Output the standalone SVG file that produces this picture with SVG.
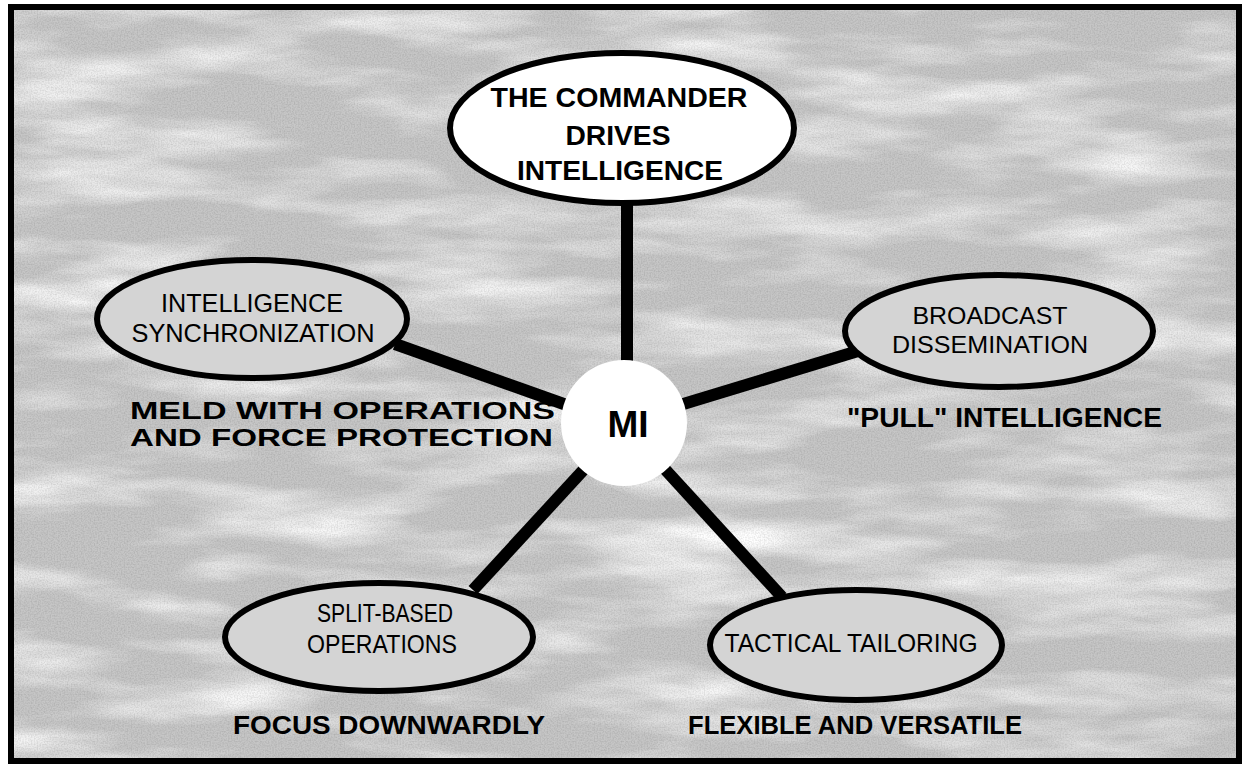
<svg xmlns="http://www.w3.org/2000/svg" width="1246" height="768" viewBox="0 0 1246 768">
<defs>
<filter id="streaks" x="0" y="0" width="1" height="1">
<feTurbulence type="fractalNoise" baseFrequency="0.005 0.025" numOctaves="4" seed="7" result="n"/>
<feColorMatrix in="n" type="matrix" values="0 0 0 0 1  0 0 0 0 1  0 0 0 0 1  2.2 0 0 0 -0.95"/>
</filter>
<filter id="grain" x="0" y="0" width="1" height="1">
<feTurbulence type="fractalNoise" baseFrequency="0.7" numOctaves="1" seed="2" result="g"/>
<feColorMatrix in="g" type="matrix" values="0 0 0 0 0  0 0 0 0 0  0 0 0 0 0  0 0 0 -1.2 0.75"/>
</filter>
<style>
.node-shape{stroke:#000;stroke-width:6;fill:#d4d4d4}
.top-shape{stroke:#000;stroke-width:6;fill:#ffffff}
.conn{stroke:#000;stroke-width:12;stroke-linecap:butt}
.t{font-family:"Liberation Sans",Arial,sans-serif;fill:#000;text-anchor:middle}
.b{font-family:"Liberation Sans",Arial,sans-serif;fill:#000;font-weight:bold}
</style>
</defs>
<rect x="0" y="0" width="1246" height="768" fill="#ffffff"/>
<g id="background">
<rect x="11" y="7" width="1228" height="754" fill="#c6c6c6"/>
<rect x="11" y="7" width="1228" height="754" fill="#000" filter="url(#streaks)"/>
<rect x="11" y="7" width="1228" height="754" fill="#000" filter="url(#grain)" opacity="0.2"/>
<rect x="11" y="7" width="1228" height="754" fill="none" stroke="#000" stroke-width="6"/>
</g>
<g id="connectors">
<line class="conn" x1="627" y1="198" x2="627" y2="370"/>
<line class="conn" x1="395" y1="344" x2="575" y2="408"/>
<line class="conn" x1="680" y1="405" x2="858" y2="351"/>
<line class="conn" x1="588" y1="465" x2="473" y2="590"/>
<line class="conn" x1="662" y1="466" x2="782" y2="597"/>
</g>
<g id="node-commander">
<ellipse class="top-shape" cx="622" cy="128" rx="172" ry="75"/>
<text class="t" x="619" y="107" font-size="27" font-weight="bold" textLength="257" lengthAdjust="spacingAndGlyphs">THE COMMANDER</text>
<text class="t" x="618" y="145" font-size="27" font-weight="bold" textLength="105" lengthAdjust="spacingAndGlyphs">DRIVES</text>
<text class="t" x="620" y="180" font-size="27" font-weight="bold" textLength="206" lengthAdjust="spacingAndGlyphs">INTELLIGENCE</text>
</g>
<g id="node-mi">
<circle cx="624" cy="423" r="63" fill="#ffffff"/>
<text class="t" x="628" y="437" font-size="37" font-weight="bold">MI</text>
</g>
<g id="node-sync">
<ellipse class="node-shape" cx="252" cy="319" rx="155" ry="59"/>
<text class="t" x="252" y="312" font-size="26" textLength="182" lengthAdjust="spacingAndGlyphs">INTELLIGENCE</text>
<text class="t" x="253" y="342" font-size="26" textLength="243" lengthAdjust="spacingAndGlyphs">SYNCHRONIZATION</text>
</g>
<g id="label-meld">
<text class="b" x="130" y="419" font-size="23" textLength="425" lengthAdjust="spacingAndGlyphs">MELD WITH OPERATIONS</text>
<text class="b" x="130" y="446" font-size="23" textLength="423" lengthAdjust="spacingAndGlyphs">AND FORCE PROTECTION</text>
</g>
<g id="node-broadcast">
<ellipse class="node-shape" cx="999" cy="331" rx="154" ry="56"/>
<text class="t" x="990" y="324" font-size="24" textLength="155" lengthAdjust="spacingAndGlyphs">BROADCAST</text>
<text class="t" x="990" y="353" font-size="24" textLength="196" lengthAdjust="spacingAndGlyphs">DISSEMINATION</text>
</g>
<g id="label-pull">
<text class="b" x="847" y="427" font-size="27" textLength="315" lengthAdjust="spacingAndGlyphs">"PULL" INTELLIGENCE</text>
</g>
<g id="node-split">
<ellipse class="node-shape" cx="379" cy="637" rx="154" ry="54"/>
<text class="t" x="385" y="622" font-size="26" textLength="136" lengthAdjust="spacingAndGlyphs">SPLIT-BASED</text>
<text class="t" x="382" y="653" font-size="26" textLength="150" lengthAdjust="spacingAndGlyphs">OPERATIONS</text>
</g>
<g id="label-focus">
<text class="b" x="233" y="734" font-size="25" textLength="312" lengthAdjust="spacingAndGlyphs">FOCUS DOWNWARDLY</text>
</g>
<g id="node-tactical">
<ellipse class="node-shape" cx="856" cy="645" rx="146" ry="55"/>
<text class="t" x="851" y="652" font-size="26" textLength="253" lengthAdjust="spacingAndGlyphs">TACTICAL TAILORING</text>
</g>
<g id="label-flexible">
<text class="b" x="688" y="734" font-size="25" textLength="334" lengthAdjust="spacingAndGlyphs">FLEXIBLE AND VERSATILE</text>
</g>
</svg>
